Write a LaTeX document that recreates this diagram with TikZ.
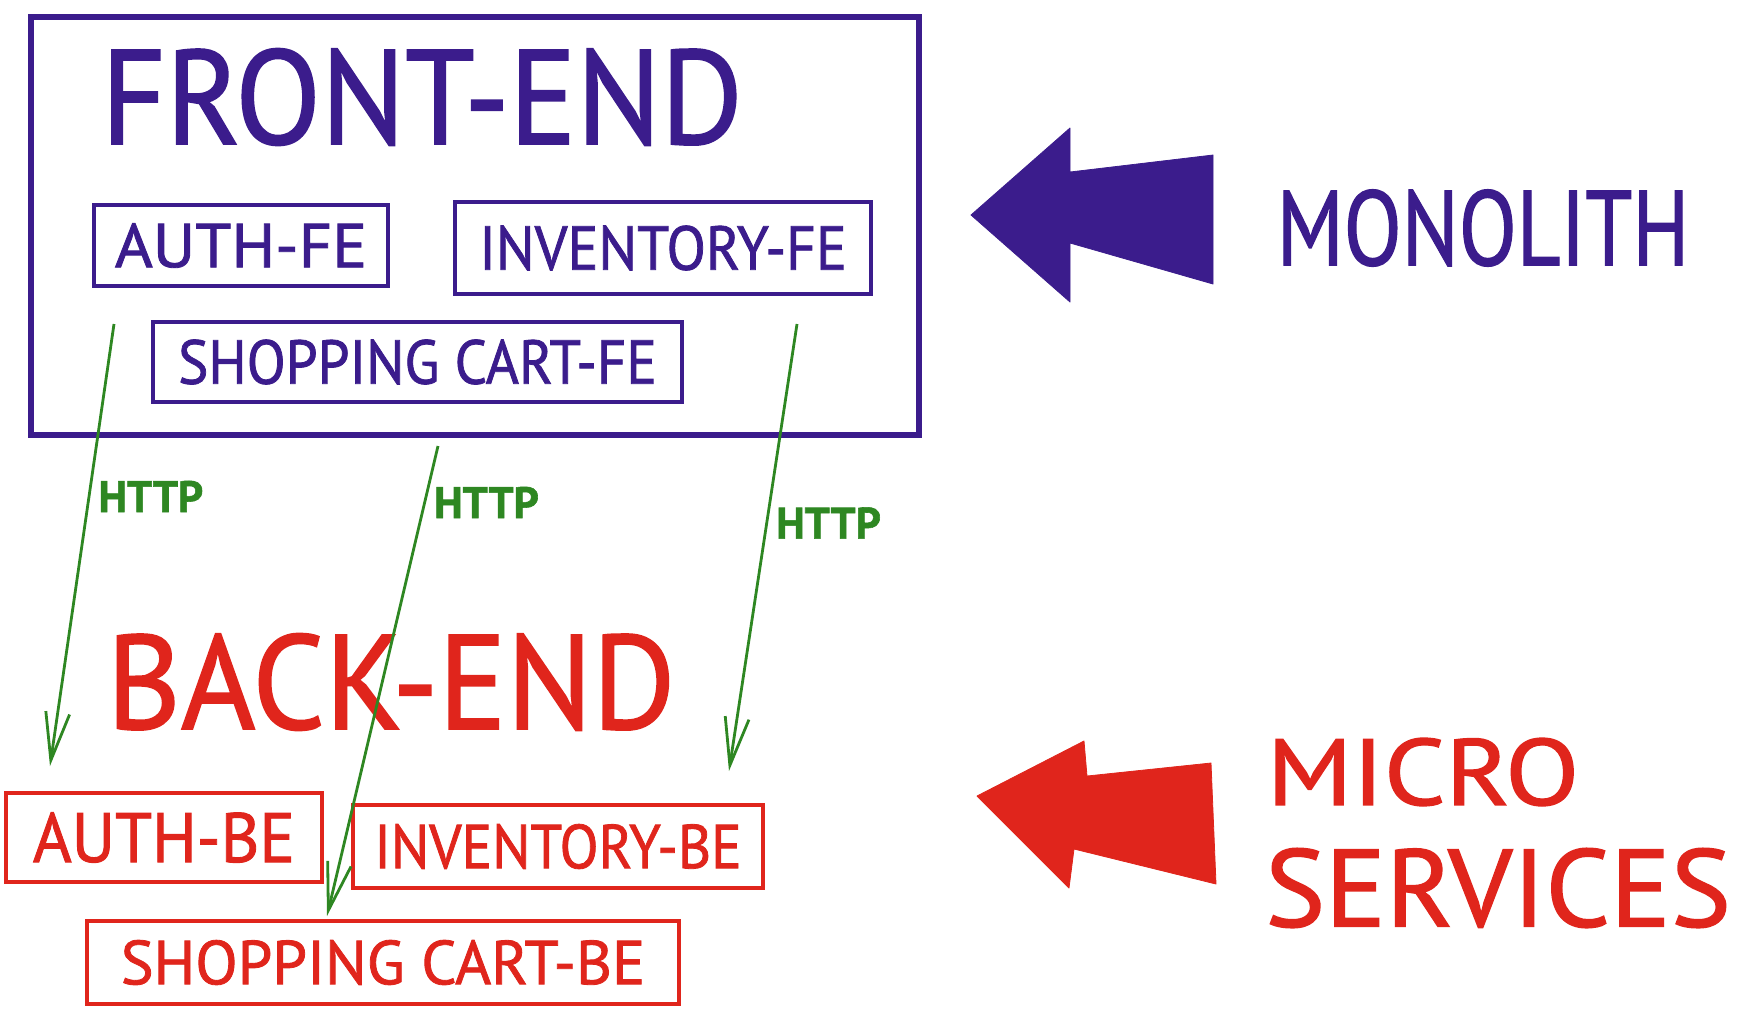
\documentclass[tikz,border=0pt]{standalone}
\usepackage{fontspec}
\setmainfont{PT Sans}[FakeBold=1.3]
\usetikzlibrary{arrows.meta}
\definecolor{mono}{RGB}{59,28,140}
\definecolor{micro}{RGB}{224,37,28}
\definecolor{httpgreen}{RGB}{46,135,34}
\newcommand{\slim}[2][0.88]{\scalebox{#1}[1]{#2}}
\tikzset{
  title/.style={inner sep=0pt, font=\fontsize{67}{67}\selectfont},
  fe/.style={draw=mono, text=mono, line width=2pt, inner sep=0pt, font=\fontsize{31}{31}\selectfont},
  be/.style={draw=micro, text=micro, line width=2pt, inner sep=0pt, font=\fontsize{31}{31}\selectfont},
  call/.style={draw=httpgreen, line width=1.4pt, -{Straight Barb[length=24pt, width=12pt]}},
  httplabel/.style={text=httpgreen, anchor=west, inner sep=4pt, font=\bfseries\fontsize{22}{22}\selectfont},
}
\begin{document}
\begin{tikzpicture}[x=0.5pt, y=-0.5pt]
    \useasboundingbox (0,0) rectangle (1740,1014);

    % Front-end (monolito)
    \draw[mono, line width=3pt] (31,17) rectangle (919,435);
    \node[title, text=mono] (frontend) at (422,97) {\slim[0.935]{FRONT-END}};
    \node[fe, minimum width=147pt, minimum height=40.5pt] (authfe) at (241,245.5) {\slim[1.05]{AUTH-FE}};
    \node[fe, minimum width=208pt, minimum height=46pt] (invfe) at (663,248) {\slim[0.93]{INVENTORY-FE}};
    \node[fe, minimum width=264.5pt, minimum height=40pt] (cartfe) at (417.5,362) {\slim[0.92]{SHOPPING CART-FE}};

    % Flecha del monolito
    \filldraw[mono, line join=round] (971,215) -- (1070,128) -- (1070,172) -- (1213,155)
        -- (1213,284) -- (1070,243) -- (1070,302) -- cycle;
    \node[title, text=mono, font=\fontsize{53}{53}\selectfont] (monolith) at (1483,228) {\slim[0.8]{MONOLITH}};

    % Back-end (microservicios)
    \node[title, text=micro] (backend) at (391,682) {\slim[0.95]{BACK-END}};
    \node[be, minimum width=158pt, minimum height=44.5pt, font=\fontsize{35}{35}\selectfont] (authbe) at (164,837.5) {\slim[0.95]{AUTH-BE}};
    \node[be, minimum width=205pt, minimum height=41.5pt] (invbe) at (558,846.5) {\slim[0.92]{INVENTORY-BE}};
    \node[be, minimum width=296pt, minimum height=41.5pt] (cartbe) at (383,962.5) {\slim[1]{SHOPPING CART-BE}};

    % Flecha de microservicios
    \filldraw[micro, line join=round] (977,796) -- (1084,741) -- (1087,776) -- (1211,763)
        -- (1216,884) -- (1074,849) -- (1069,888) -- cycle;
    \node[title, text=micro, font=\fontsize{47}{47}\selectfont] (micro) at (1423,772) {\slim[1.15]{MICRO}};
    \node[title, text=micro, font=\fontsize{55}{55}\selectfont] (services) at (1498,888) {\slim[1.03]{SERVICES}};

    % Llamadas HTTP
    \coordinate (c1a) at (114,324);
    \coordinate (c1b) at (50,766);
    \coordinate (c2a) at (438,446);
    \coordinate (c2b) at (327,916);
    \coordinate (c3a) at (797,324);
    \coordinate (c3b) at (729,771);
    \draw[call] (c1a) -- (c1b) node[httplabel, pos=0.39] (http1) {HTTP};
    \draw[call] (c2a) -- (c2b) node[httplabel, pos=0.12] (http2) {HTTP};
    \draw[call] (c3a) -- (c3b) node[httplabel, pos=0.445] (http3) {HTTP};
\end{tikzpicture}
\end{document}
